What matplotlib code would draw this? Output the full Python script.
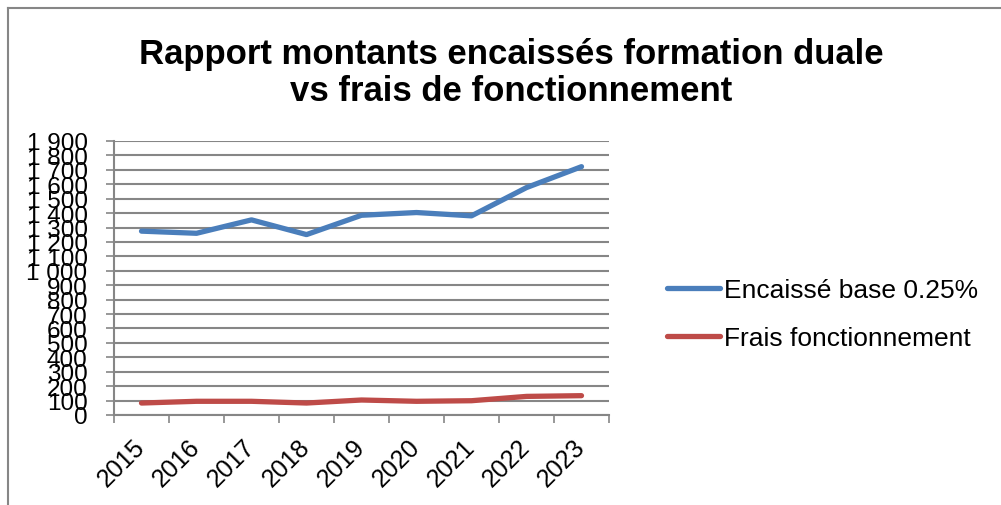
import matplotlib.pyplot as plt
from matplotlib.lines import Line2D

# données
annees = ['2015', '2016', '2017', '2018', '2019', '2020', '2021', '2022', '2023']
encaisse = [1275, 1260, 1353, 1251, 1385, 1404, 1381, 1577, 1722]
frais = [83, 95, 95, 83, 104, 95, 99, 129, 134]
y_ticks = list(range(0, 2000, 100))

plt.rcParams['font.family'] = ['Liberation Sans', 'DejaVu Sans']
grid_col = '#868686'

fig = plt.figure(figsize=(10.01, 5.06), dpi=100)
ax = fig.add_axes([114 / 1001, 1 - 416 / 506, (609 - 114) / 1001, (416 - 142) / 506])

x = list(range(len(annees)))
ax.plot(x, encaisse, color='#4A7EBB', lw=3.8, solid_capstyle='round',
        solid_joinstyle='round', label='Encaissé base 0.25%')
ax.plot(x, frais, color='#BE4B48', lw=3.8, solid_capstyle='round',
        solid_joinstyle='round', label='Frais fonctionnement')

ax.set_xlim(-0.5, len(annees) - 0.5)
ax.set_ylim(0, 1900)

# graduations y
ax.set_yticks(y_ticks)
ax.set_yticklabels([f'{v:,}'.replace(',', ' ') for v in y_ticks])
ax.yaxis.grid(True, color=grid_col, lw=1.5)
ax.set_axisbelow(True)
ax.tick_params(axis='y', length=6, width=1.2, color=grid_col, pad=13, labelsize=17.5)

# graduations x : traits entre catégories, libellés au centre
ax.set_xticks([i - 0.5 for i in range(len(annees) + 1)], minor=True)
ax.set_xticks(x)
ax.set_xticklabels(annees, rotation=45, ha='right', rotation_mode='anchor', va='center')
ax.tick_params(axis='x', which='major', length=0, pad=20, labelsize=18)
ax.tick_params(axis='x', which='minor', length=6, width=1.2, color=grid_col)

for s in ['top', 'right']:
    ax.spines[s].set_visible(False)
for s in ['left', 'bottom']:
    ax.spines[s].set_color(grid_col)
    ax.spines[s].set_linewidth(1.5)

fig.text(511 / 1001, 1 - 73 / 506,
         'Rapport montants encaissés formation duale\nvs frais de fonctionnement',
         ha='center', va='center', fontsize=25, fontweight='bold', linespacing=1.15)

ax.legend(loc='center left', bbox_to_anchor=(667 / 1001, 1 - 315 / 506),
          bbox_transform=fig.transFigure, frameon=False, fontsize=19,
          handlelength=2.0, handletextpad=0.15, labelspacing=0.9, borderpad=0,
          borderaxespad=0)

# cadre du graphique
fig.add_artist(Line2D([8 / 1001, 8 / 1001], [0, 1 - 9 / 506], color=grid_col, lw=1.5))
fig.add_artist(Line2D([8 / 1001, 1], [1 - 9 / 506, 1 - 9 / 506], color=grid_col, lw=1.5))

fig.savefig('out.png', dpi=100)
